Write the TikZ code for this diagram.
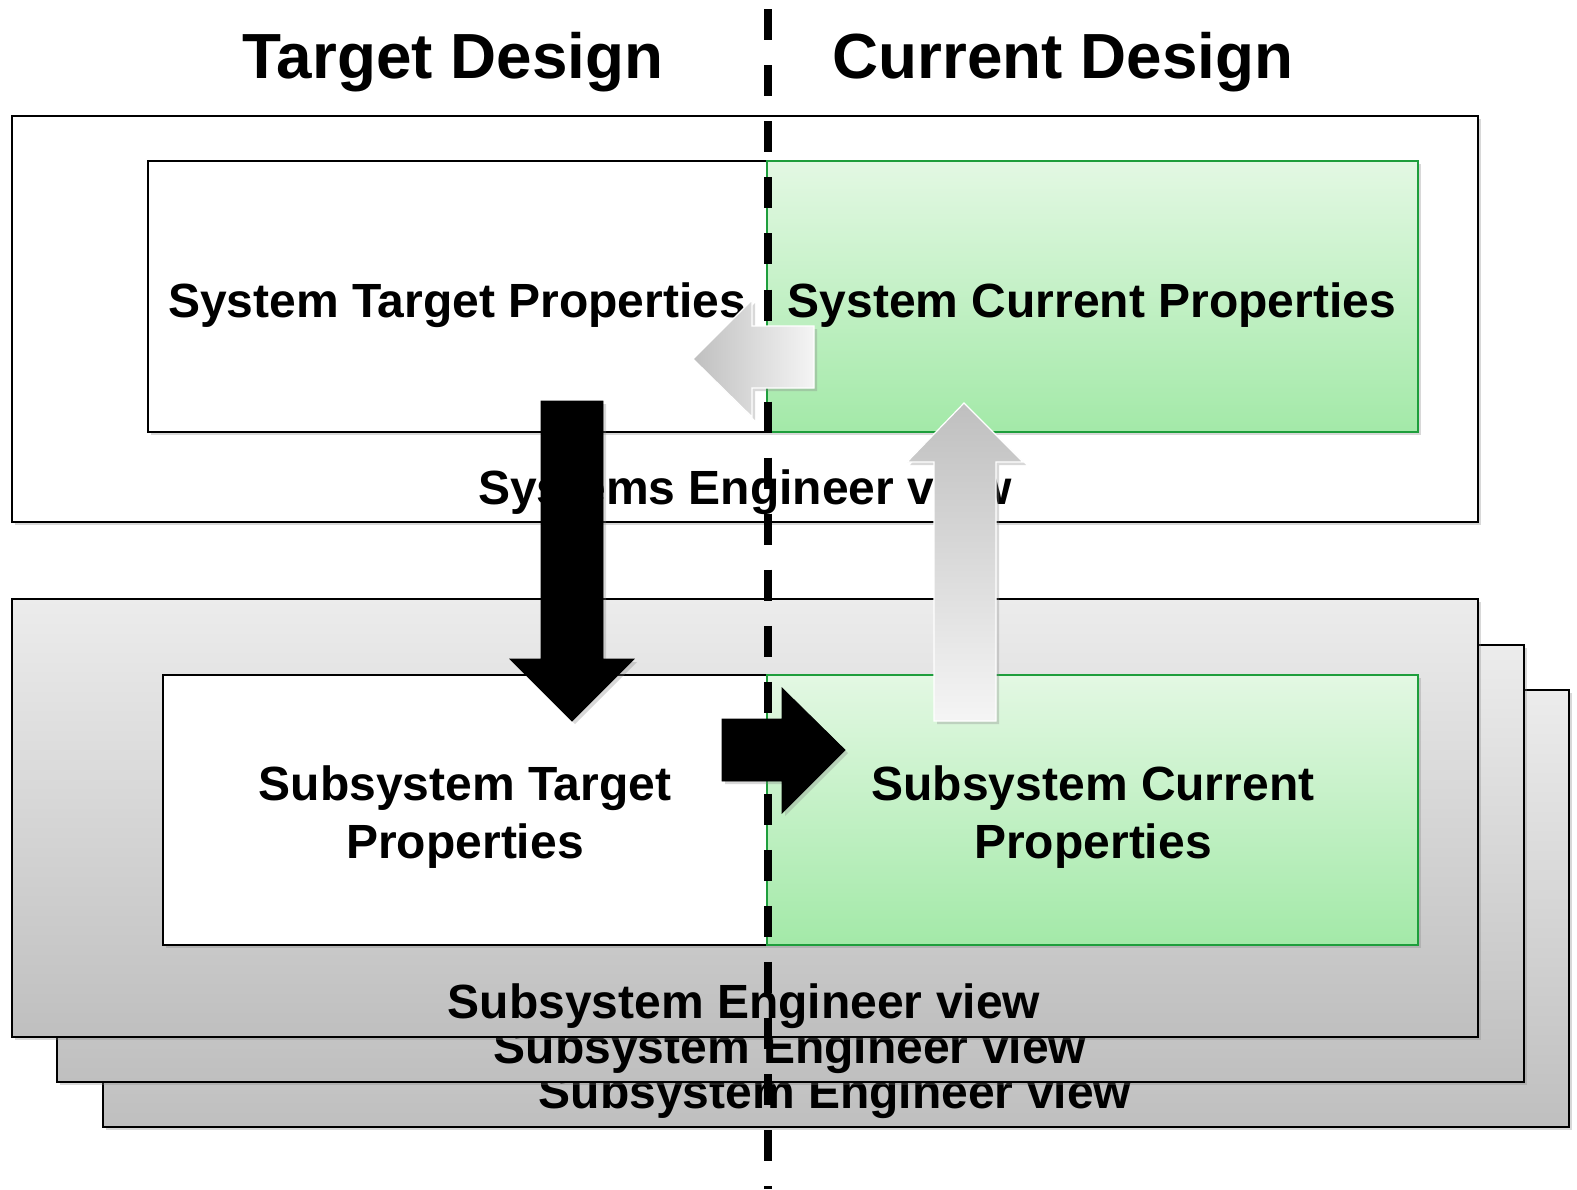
\documentclass[tikz,border=0pt]{standalone}
\usepackage{fontspec}
\setmainfont{Liberation Sans}
\usetikzlibrary{shadows}
\definecolor{gtop}{HTML}{E3F8E3}
\definecolor{gbot}{HTML}{A3E9A8}
\definecolor{gline}{HTML}{1E9E3C}
\definecolor{btop}{HTML}{ECECEC}
\definecolor{bbot}{HTML}{BFBFBF}
\tikzset{
  sh/.style={drop shadow={shadow xshift=1.5pt, shadow yshift=-1.5pt, opacity=0.3}},
  viewbox/.style={draw=black, line width=1.2pt, top color=btop, bottom color=bbot, sh},
  whitebox/.style={draw=black, line width=1pt, fill=white, sh},
  greenbox/.style={draw=gline, line width=1pt, top color=gtop, bottom color=gbot, sh},
  lbl/.style={font=\fontsize{24pt}{29pt}\selectfont\bfseries, anchor=base, inner sep=0pt},
  ttl/.style={font=\fontsize{31.9pt}{36pt}\selectfont\bfseries, anchor=base, inner sep=0pt},
  blackarrow/.style={fill=black, sh},
  grayarrowh/.style={draw=white, line width=0.6pt, left color=black!25, right color=black!4, sh},
  grayarrowv/.style={draw=white, line width=0.6pt, top color=black!25, bottom color=black!4, sh},
  divider/.style={line width=4pt, dash pattern=on 15.5pt off 12.52pt, dash phase=23.37pt}
}
\begin{document}
\begin{tikzpicture}[x=0.5pt,y=-0.5pt]
\useasboundingbox[fill=white] (0,0) rectangle (1577,1189);
% stacked subsystem views
\draw[viewbox] (103,690) rectangle (1569,1127);
\node[lbl] (sev3) at (835,1108) {Subsystem Engineer view};
\draw[viewbox] (57,645) rectangle (1524,1082);
\node[lbl] (sev2) at (790,1063) {Subsystem Engineer view};
\draw[viewbox] (12,599) rectangle (1478,1037);
\node[lbl] (sev1) at (744,1018) {Subsystem Engineer view};
% subsystem properties
\draw[whitebox] (163,675) rectangle (767,945);
\draw[greenbox] (767,675) rectangle (1418,945);
\node[lbl] (stp) at (465,800) {Subsystem Target};
\node[lbl] (stp2) at (465,858) {Properties};
\node[lbl] (scp) at (1093,800) {Subsystem Current};
\node[lbl] (scp2) at (1093,858) {Properties};
% systems engineer view
\draw[whitebox] (12,116) rectangle (1478,522);
\node[lbl] (syev) at (745,504) {Systems Engineer view};
\draw[whitebox] (148,161) rectangle (767,432);
\draw[greenbox] (767,161) rectangle (1418,432);
\node[lbl] (systp) at (457,317) {System Target Properties};
\node[lbl] (syscp) at (1092,317) {System Current Properties};
% titles
\node[ttl] (td) at (453,78) {Target Design};
\node[ttl] (cd) at (1063,78) {Current Design};
% divider
\coordinate (dtop) at (768,0);
\coordinate (dbot) at (768,1189);
\draw[divider] (dtop) -- (dbot);
% arrows
\draw[blackarrow] (541,401) -- (603,401) -- (603,659) -- (634,659) -- (572,721) -- (510,659) -- (541,659) -- cycle;
\draw[blackarrow] (722,719) -- (782,719) -- (782,688) -- (845,750) -- (782,813) -- (782,781) -- (722,781) -- cycle;
\draw[grayarrowh] (814,326) -- (752,326) -- (752,300) -- (693,359) -- (752,417) -- (752,388) -- (814,388) -- cycle;
\draw[grayarrowv] (934,721) -- (934,462) -- (907,462) -- (964,403) -- (1023,462) -- (996,462) -- (996,721) -- cycle;
\end{tikzpicture}
\end{document}
